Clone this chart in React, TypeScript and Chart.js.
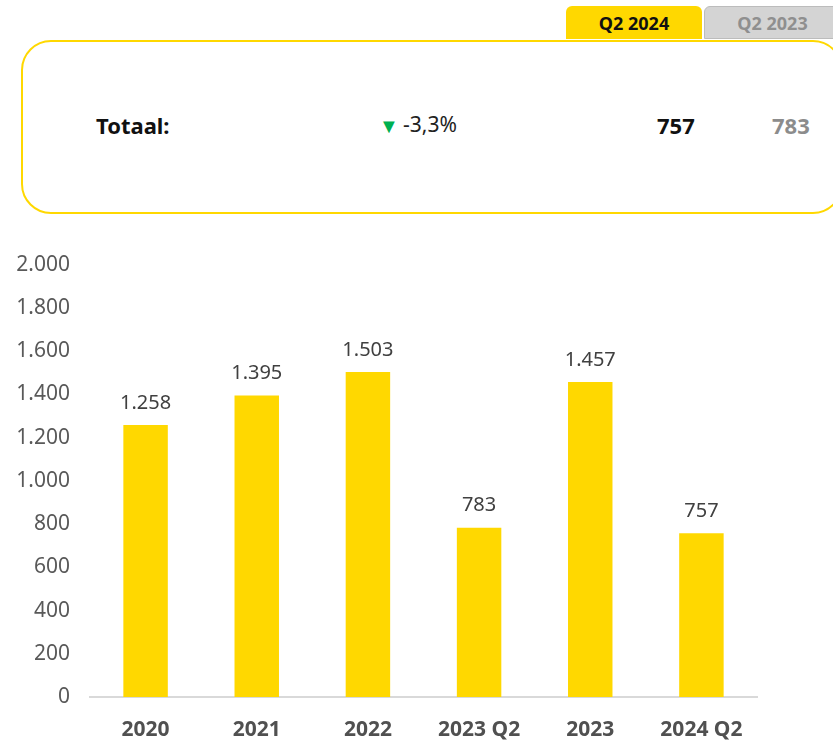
import React, { useEffect, useRef } from "react";
import { Chart, registerables } from "chart.js";
Chart.register(...registerables);

const categories = ["2020", "2021", "2022", "2023 Q2", "2023", "2024 Q2"];
const values = [1258, 1395, 1503, 783, 1457, 757];
const yTicks = [0, 200, 400, 600, 800, 1000, 1200, 1400, 1600, 1800, 2000];
const currentLabel = "Q2 2024";
const previousLabel = "Q2 2023";
const totalLabel = "Totaal:";
const changeText = "-3,3%";
const currentValue = "757";
const previousValue = "783";

const YELLOW = "#FFD800";
const FONT = "'Noto Sans', sans-serif";

function fmt(v: number): string {
  const s = Math.round(v).toString();
  return s.replace(/\B(?=(\d{3})+(?!\d))/g, ".");
}

const valueLabels = {
  id: "valueLabels",
  afterDatasetsDraw(chart: any) {
    const ctx = chart.ctx;
    const meta = chart.getDatasetMeta(0);
    ctx.save();
    ctx.font = `20px ${FONT}`;
    ctx.fillStyle = "#404040";
    ctx.textAlign = "center";
    ctx.textBaseline = "bottom";
    meta.data.forEach((bar: any, i: number) => {
      ctx.fillText(fmt(values[i]), bar.x, bar.y - 12);
    });
    ctx.restore();
  },
};

export default function App() {
  const ref = useRef<HTMLCanvasElement | null>(null);
  useEffect(() => {
    if (!ref.current) return;
    const chart = new Chart(ref.current, {
      type: "bar",
      data: {
        labels: categories,
        datasets: [
          {
            data: values,
            backgroundColor: YELLOW,
            categoryPercentage: 1,
            barPercentage: 0.4,
          },
        ],
      },
      options: {
        animation: false,
        responsive: false,
        maintainAspectRatio: false,
        layout: { padding: { left: 0, right: 76, top: 16, bottom: 0 } },
        plugins: { legend: { display: false }, tooltip: { enabled: false } },
        scales: {
          x: {
            grid: { display: false, drawTicks: false },
            border: { color: "#d9d9d9", width: 2 },
            ticks: {
              color: "#505050",
              font: { family: FONT, size: 21, weight: "bold" },
              padding: 20,
            },
            afterFit(scale: any) {
              scale.height = 48;
            },
          },
          y: {
            min: 0,
            max: 2000,
            grid: { display: false, drawTicks: false },
            border: { display: false },
            afterBuildTicks(scale: any) {
              scale.ticks = yTicks.map((v) => ({ value: v }));
            },
            ticks: {
              color: "#595959",
              font: { family: FONT, size: 21 },
              padding: 20,
              callback: (v: any) => fmt(Number(v)),
            },
            afterFit(scale: any) {
              scale.width = 90;
            },
          },
        },
      },
      plugins: [valueLabels],
    });
    return () => chart.destroy();
  }, []);

  return (
    <div style={{ position: "absolute", left: 0, top: 0, width: 833, height: 745, overflow: "hidden", background: "#fff" }}>
      <div
        style={{
          position: "absolute", left: 566, top: 6, width: 136, height: 33,
          background: YELLOW, borderRadius: "6px 6px 0 0", display: "flex",
          alignItems: "center", justifyContent: "center",
          font: `bold 18px ${FONT}`, color: "#111",
        }}
      >
        {currentLabel}
      </div>
      <div
        style={{
          position: "absolute", left: 704, top: 6, width: 135, height: 31,
          background: "#d4d4d4", border: "1px solid #bcbcbc", borderRadius: "6px 6px 0 0",
          display: "flex", alignItems: "center", justifyContent: "center",
          font: `bold 18px ${FONT}`, color: "#8f8f8f", paddingRight: 8, boxSizing: "content-box",
        }}
      >
        {previousLabel}
      </div>
      <div
        style={{
          position: "absolute", left: 21, top: 40, width: 822, height: 174,
          border: `2px solid ${YELLOW}`, borderRadius: 30, boxSizing: "border-box", background: "#fff",
        }}
      />
      <div style={{ position: "absolute", left: 96, top: 110, font: `bold 22px ${FONT}`, color: "#111" }}>{totalLabel}</div>
      <div style={{ position: "absolute", left: 379, top: 112, font: `20px ${FONT}`, color: "#00B050" }}>▼</div>
      <div style={{ position: "absolute", left: 403, top: 110, font: `21px ${FONT}`, color: "#222" }}>{changeText}</div>
      <div style={{ position: "absolute", left: 657, top: 110, font: `bold 22px ${FONT}`, color: "#111" }}>{currentValue}</div>
      <div style={{ position: "absolute", left: 772, top: 110, font: `bold 22px ${FONT}`, color: "#8c8c8c" }}>{previousValue}</div>
      <canvas ref={ref} width={833} height={513} style={{ position: "absolute", left: 0, top: 232, width: 833, height: 513 }} />
    </div>
  );
}
